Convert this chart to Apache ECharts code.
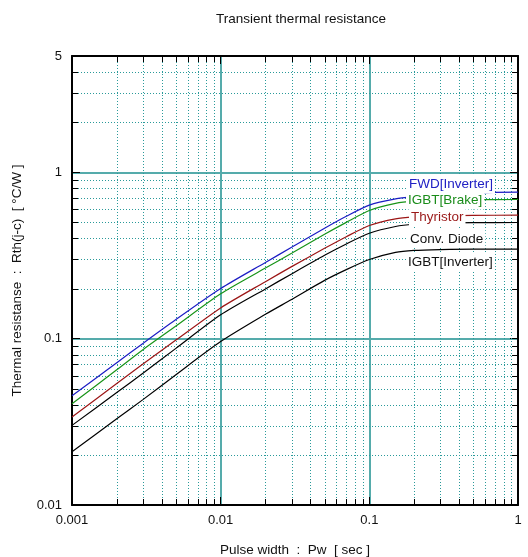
<!DOCTYPE html>
<html>
<head>
<meta charset="utf-8">
<script src="https://cdn.jsdelivr.net/npm/echarts@6/dist/echarts.min.js"></script>
<style>
html,body{margin:0;padding:0;background:#fff;}
#chart{width:528px;height:557px;}
</style>
</head>
<body>
<div id="chart"></div>
<script>
// ---- data ----
var pulseWidth   = [0.001, 0.002, 0.003, 0.005, 0.01, 0.02, 0.03, 0.05, 0.07, 0.1, 0.15, 0.2, 0.3, 0.5, 1];
var fwdInverter  = [0.0453, 0.0716, 0.0936, 0.1302, 0.200, 0.287, 0.354, 0.461, 0.544, 0.635, 0.692, 0.715, 0.740, 0.753, 0.759];
var igbtBrake    = [0.0406, 0.0650, 0.0858, 0.1190, 0.186, 0.2655, 0.326, 0.424, 0.500, 0.589, 0.650, 0.670, 0.680, 0.685, 0.686];
var thyristor    = [0.0338, 0.0537, 0.0704, 0.0980, 0.153, 0.220, 0.271, 0.349, 0.410, 0.479, 0.525, 0.539, 0.548, 0.551, 0.552];
var convDiode    = [0.0301, 0.0474, 0.0620, 0.0874, 0.139, 0.199, 0.245, 0.317, 0.371, 0.430, 0.472, 0.487, 0.495, 0.498, 0.499];
var igbtInverter = [0.0209, 0.0330, 0.0430, 0.0607, 0.096, 0.140, 0.172, 0.224, 0.260, 0.299, 0.330, 0.339, 0.343, 0.345, 0.345];
var seriesNames = ['FWD[Inverter]', 'IGBT[Brake]', 'Thyristor', 'Conv. Diode', 'IGBT[Inverter]'];
var xTickLabels = ['0.001', '0.01', '0.1', '1'];
var yTickLabels = ['0.01', '0.1', '1', '5'];
var titleText = 'Transient thermal resistance';
var xAxisName = 'Pulse width  :  Pw  [ sec ]';
var yAxisName = 'Thermal resistanse  :  Rth(j-c)  [ °C/W ]';

// ---- styling ----
var FONT = '"Liberation Sans", Arial, sans-serif';
var lineColors = ['#1c1cc4', '#189418', '#9c1616', '#000000', '#000000'];
var textColors = ['#2020c4', '#1a8c1a', '#9a1818', '#111111', '#111111'];
var minorGridColor = '#2a9a9a';
var majorGridColor = '#55abab';

function zipData(ys) {
  return pulseWidth.map(function (x, i) { return [x, ys[i]]; });
}
var allSeries = [fwdInverter, igbtBrake, thyristor, convDiode, igbtInverter];

// minor grid positions (2..9 per decade)
var minorItems = [];
[0.001, 0.01, 0.1].forEach(function (d) {
  for (var k = 2; k <= 9; k++) minorItems.push([+(d * k).toPrecision(3), 0.01, 0]);
});
[0.01, 0.1, 1].forEach(function (d) {
  for (var k = 2; k <= 9; k++) {
    var v = +(d * k).toPrecision(3);
    if (v < 5) minorItems.push([0.001, v, 1]);
  }
});

function fmt(v) { return String(parseFloat((+v).toPrecision(6))); }

var chart = echarts.init(document.getElementById('chart'), null, {renderer: 'canvas'});

var series = allSeries.map(function (ys, i) {
  return {
    name: seriesNames[i],
    type: 'line',
    data: zipData(ys),
    showSymbol: false,
    symbol: 'none',
    smooth: 0.25,
    lineStyle: {color: lineColors[i], width: 1.2},
    z: 5,
    silent: true,
    animation: false
  };
});

series.unshift({
  type: 'custom',
  data: minorItems,
  silent: true,
  animation: false,
  z: 1,
  encode: {x: 0, y: 1},
  renderItem: function (params, api) {
    var cs = params.coordSys;
    var dir = api.value(2);
    var ch = [];
    if (dir === 0) {
      var x = Math.round(api.coord([api.value(0), 0.01])[0]) + 0.5;
      ch.push({type: 'line', shape: {x1: x, y1: cs.y, x2: x, y2: cs.y + cs.height},
        style: {stroke: minorGridColor, lineWidth: 1, lineDash: [1, 2]}});
      ch.push({type: 'line', shape: {x1: x, y1: cs.y + cs.height, x2: x, y2: cs.y + cs.height - 6},
        style: {stroke: '#000', lineWidth: 1}, z2: 10});
      ch.push({type: 'line', shape: {x1: x, y1: cs.y, x2: x, y2: cs.y + 6},
        style: {stroke: '#000', lineWidth: 1}, z2: 10});
    } else {
      var y = Math.round(api.coord([0.001, api.value(1)])[1]) + 0.5;
      ch.push({type: 'line', shape: {x1: cs.x, y1: y, x2: cs.x + cs.width, y2: y},
        style: {stroke: minorGridColor, lineWidth: 1, lineDash: [1, 2]}});
      ch.push({type: 'line', shape: {x1: cs.x, y1: y, x2: cs.x + 6, y2: y},
        style: {stroke: '#000', lineWidth: 1}, z2: 10});
      ch.push({type: 'line', shape: {x1: cs.x + cs.width, y1: y, x2: cs.x + cs.width - 6, y2: y},
        style: {stroke: '#000', lineWidth: 1}, z2: 10});
    }
    return {type: 'group', children: ch};
  }
});

var labelBoxes = [
  {left: 407, cy: 184},
  {left: 406, cy: 200.5},
  {left: 409, cy: 217},
  {left: 408, cy: 239},
  {left: 406, cy: 262}
];
var graphics = seriesNames.map(function (n, i) {
  return {
    type: 'text',
    z: 100,
    left: labelBoxes[i].left,
    top: labelBoxes[i].cy - 9,
    style: {
      text: n,
      fill: textColors[i],
      font: '13.5px ' + FONT,
      backgroundColor: '#fff',
      padding: [2, 2, 2, 2]
    }
  };
});

var logAxisCommon = {
  type: 'log',
  logBase: 10,
  splitNumber: 10
};

var option = {
  backgroundColor: '#fff',
  animation: false,
  title: {
    text: titleText,
    left: 296,
    textAlign: 'center',
    top: 7,
    textStyle: {fontFamily: FONT, fontSize: 13.5, fontWeight: 'normal', color: '#111'}
  },
  grid: {left: 72, right: 10, top: 56, bottom: 52, containLabel: false, outerBoundsMode: 'none'},
  xAxis: [
    Object.assign({}, logAxisCommon, {
      min: 0.001, max: 1,
      position: 'bottom',
      name: xAxisName,
      nameLocation: 'middle',
      nameGap: 38,
      nameTextStyle: {fontFamily: FONT, fontSize: 13.5, color: '#111'},
      axisLine: {show: true, onZero: false, lineStyle: {color: '#000', width: 2}},
      axisTick: {show: true, inside: true, length: 8, lineStyle: {color: '#000', width: 1}},
      axisLabel: {
        fontFamily: FONT, fontSize: 13, color: '#111', margin: 9,
        formatter: function (v) { var s = fmt(v); return xTickLabels.indexOf(s) >= 0 ? s : ''; }
      },
      splitLine: {show: true, lineStyle: {color: majorGridColor, width: 2}},
      minorTick: {show: false},
      minorSplitLine: {show: false}
    }),
    Object.assign({}, logAxisCommon, {
      min: 0.001, max: 1,
      position: 'top',
      axisLine: {show: true, onZero: false, lineStyle: {color: '#000', width: 2}},
      axisTick: {show: true, inside: true, length: 8, lineStyle: {color: '#000', width: 1}},
      axisLabel: {show: false},
      splitLine: {show: false}
    })
  ],
  yAxis: [
    Object.assign({}, logAxisCommon, {
      min: 0.01, max: 5,
      position: 'left',
      name: yAxisName,
      nameLocation: 'middle',
      nameGap: 48,
      nameTextStyle: {fontFamily: FONT, fontSize: 13.5, color: '#111'},
      axisLine: {show: true, onZero: false, lineStyle: {color: '#000', width: 2}},
      axisTick: {show: true, inside: true, length: 8, lineStyle: {color: '#000', width: 1}},
      axisLabel: {
        fontFamily: FONT, fontSize: 13, color: '#111', margin: 10,
        showMaxLabel: true, showMinLabel: true,
        formatter: function (v) { var s = fmt(v); return yTickLabels.indexOf(s) >= 0 ? s : ''; }
      },
      splitLine: {show: true, lineStyle: {color: majorGridColor, width: 2}},
      minorTick: {show: false},
      minorSplitLine: {show: false}
    }),
    Object.assign({}, logAxisCommon, {
      min: 0.01, max: 5,
      position: 'right',
      axisLine: {show: true, onZero: false, lineStyle: {color: '#000', width: 2}},
      axisTick: {show: true, inside: true, length: 8, lineStyle: {color: '#000', width: 1}},
      axisLabel: {show: false},
      splitLine: {show: false}
    })
  ],
  graphic: graphics,
  series: series
};

chart.setOption(option);
</script>
</body>
</html>
